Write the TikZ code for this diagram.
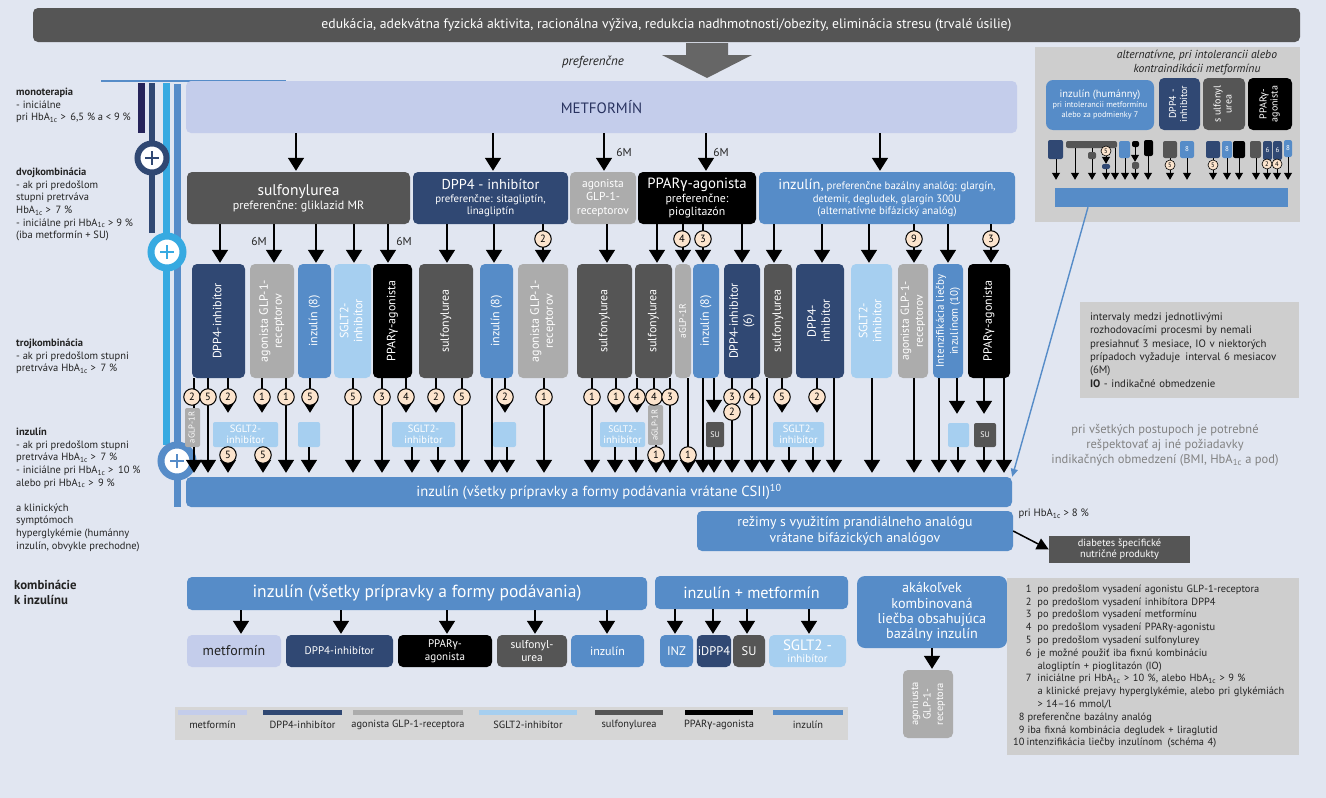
\documentclass[tikz,border=0pt]{standalone}
\usepackage{fontspec}
\setmainfont{PT Sans}
\newfontfamily\grfont{Fira Sans}
\usepackage{graphicx}
\usetikzlibrary{positioning, arrows.meta, calc}

\definecolor{bgc}{RGB}{225,230,241}
\definecolor{cdark}{RGB}{85,85,85}
\definecolor{cnavy}{RGB}{48,72,115}
\definecolor{cblue}{RGB}{86,140,200}
\definecolor{clight}{RGB}{166,207,240}
\definecolor{cgray}{RGB}{172,172,172}
\definecolor{cmet}{RGB}{196,205,235}
\definecolor{cmtext}{RGB}{40,50,95}
\definecolor{cpanel}{RGB}{206,206,206}
\definecolor{cpanelb}{RGB}{214,214,214}
\definecolor{cbeige}{RGB}{252,228,205}
\definecolor{cbright}{RGB}{55,170,225}
\definecolor{cdeep}{RGB}{38,36,90}
\definecolor{ctext}{RGB}{35,35,35}
\definecolor{cnote}{RGB}{130,130,130}

\newcommand{\fsz}[2]{\fontsize{#1}{#2}\selectfont}
\newcommand{\gam}{{\grfont γ}}
\newcommand{\hba}{HbA\textsubscript{1c}}
\newcommand{\vtext}[1]{\rotatebox{90}{\begin{tabular}{@{}c@{}}#1\end{tabular}}}

\begin{document}
\begin{tikzpicture}[
  x=1pt, y=-1pt,
  >={Triangle[length=13pt,width=16pt]},
  every node/.style={font=\fsz{9}{11}, text=ctext},
  box/.style={rectangle, rounded corners=5pt, fill=#1, text=white, align=center, inner sep=1pt},
  vbox/.style={box=#1, minimum height=114pt},
  sbox/.style={box=#1, rounded corners=2pt, inner sep=0pt, font=\fsz{10.5}{10.5}},
  arr/.style={->, line width=1.6pt, shorten >=1pt},
  pinarr/.style={->, line width=1.6pt, shorten >=9pt},
  sarr/.style={-{Triangle[length=7pt,width=8pt]}, line width=1pt},
  num/.style={circle, draw=black, fill=cbeige, line width=1pt, inner sep=0pt, minimum size=16.5pt, text=black, font=\fsz{10.5}{10.5}},
  snum/.style={num, minimum size=10pt, line width=.6pt, font=\fsz{6.5}{7}},
  plus/.style={circle, draw=#1, fill=white, inner sep=0pt, path picture={
      \draw[#1, line width=1.8pt] ($(path picture bounding box.center)+(-7,0)$) -- +(14,0)
        ($(path picture bounding box.center)+(0,-7)$) -- +(0,14);}},
  lefttext/.style={anchor=north west, align=left, inner sep=0pt, font=\fsz{10.5}{12.6}}
]
\useasboundingbox (0,0) rectangle (1326,798);
\fill[bgc] (0,0) rectangle (1326,798);

% trvalé úsilie
\node[box=cdark, minimum width=1267pt, minimum height=34pt, font=\fsz{13.7}{15}] (tb) at (666.5,25)
  {edukácia, adekvátna fyzická aktivita, racionálna výživa, redukcia nadhmotnosti/obezity, eliminácia stresu (trvalé úsilie)};
\fill[cdark!90] (686,43) -- (728,43) -- (728,55) -- (752,55) -- (707,78) -- (662,55) -- (686,55) -- cycle;
\node[font=\fsz{13}{14}\itshape] (pf) at (593,62) {preferenčne};

% stupne liečby vľavo
\draw[cblue, line width=2.5pt] (101,81) -- (286,81);
\fill[cdeep] (138,83) rectangle (145,133);
\fill[cnavy] (149,83) rectangle (155,233);
\fill[cbright] (163,83) rectangle (170,445);
\fill[cblue] (174,84) rectangle (181,507);
\node[plus=cnavy, minimum size=29pt, line width=6pt] (pl1) at (152,158) {};
\node[plus=cbright, minimum size=32pt, line width=7pt] (pl2) at (167,252) {};
\node[plus=cblue, minimum size=32pt, line width=7pt] (pl3) at (177,461) {};

\node[lefttext] (lt1) at (16,88) {\textbf{monoterapia}\\- iniciálne\\pri \hba{} >\, 6,5 \% a < 9 \%};
\node[lefttext] (lt2) at (16,168) {\textbf{dvojkombinácia}\\- ak pri predošlom\\stupni pretrváva\\\hba{} >\, 7 \%\\- iniciálne pri \hba{} > 9 \%\\(iba metformín + SU)};
\node[lefttext] (lt3) at (16,339) {\textbf{trojkombinácia}\\- ak pri predošlom stupni\\pretrváva \hba{} >\, 7 \%};
\node[lefttext] (lt4) at (16,428) {\textbf{inzulín}\\- ak pri predošlom stupni\\pretrváva \hba{} >\, 7 \%\\- iniciálne pri \hba{} >\, 10 \%\\alebo pri \hba{} >\, 9 \%\\[12.6pt]a klinických\\symptómoch\\hyperglykémie (humánny\\inzulín, obvykle prechodne)};
\node[lefttext, font=\fsz{12.8}{15}\bfseries] (lt5) at (14,580) {kombinácie\\k inzulínu};

% metformín a druhý rad
\node[box=cmet, text=cmtext, minimum width=831pt, minimum height=52pt, font=\fsz{15}{16}] (mf) at (601.5,107) {METFORMÍN};
\node[box=cdark, minimum width=223pt, minimum height=52pt, font=\fsz{12}{14}] (s2) at (298.5,198)
  {{\fsz{15.5}{17}sulfonylurea}\\preferenčne: gliklazid MR};
\node[box=cnavy, minimum width=155pt, minimum height=52pt, font=\fsz{10.8}{12.5}] (d2) at (490.5,198)
  {{\fsz{14.3}{15}DPP4 - inhibítor}\\preferenčne: sitagliptín,\\linagliptín};
\node[box=cgray, minimum width=66pt, minimum height=52pt, font=\fsz{11.5}{13.8}] (g2) at (603,198)
  {agonista\\GLP-1-\\receptorov};
\node[box=black, minimum width=118pt, minimum height=52pt, font=\fsz{11.8}{13.5}] (p2) at (697,198)
  {{\fsz{14.8}{16}PPAR\gam-agonista}\\preferenčne:\\pioglitazón};
\node[box=cblue, minimum width=256pt, minimum height=52pt, font=\fsz{10.8}{12.8}] (i2) at (887,198)
  {{\fsz{14.5}{16}inzulín,} preferenčne bazálny analóg: glargín,\\detemir, degludek, glargín 300U\\(alternatívne bifázický analóg)};

% tretí rad
\foreach \n/\xa/\xb/\col/\fs/\txt in {
    r1/192/245/cnavy/12/{DPP4-inhibítor},
    r2/250/294/cgray/12/{agonista GLP-1-\\receptorov},
    r3/298/331/cblue/12/{inzulín (8)},
    r4/334/371/clight/12/{SGLT2-\\inhibítor},
    r5/373/412/black/12/{PPAR\gam-agonista},
    r6/419/473/cdark/12/{sulfonylurea},
    r7/480/513/cblue/12/{inzulín (8)},
    r8/518/568/cgray/12/{agonista GLP-1-\\receptorov},
    r9/577/632/cdark/12/{sulfonylurea},
    r10/635/672/cdark/12/{sulfonylurea},
    r11/675/691/cgray/9.5/{aGLP-1R},
    r12/693/719/cblue/12/{inzulín (8)},
    r13/724/760/cnavy/12/{DPP4-inhibítor\\(6)},
    r14/764/792/cdark/12/{sulfonylurea},
    r15/796/844/cnavy/12/{DPP4-\\inhibítor},
    r16/851/892/clight/12/{SGLT2-\\inhibítor},
    r17/898/928/cgray/11.5/{agonista GLP-1-\\receptorov},
    r18/933/963/cblue/11/{Intenzifikácia liečby\\inzulínom (10)},
    r19/968/1010/black/12/{PPAR\gam-agonista}}
  \node[vbox=\col, minimum width={(\xb-\xa)*1pt}, font=\fsz{\fs}{14}] (\n) at ({(\xa+\xb)/2},321) {\vtext{\txt}};

% malé pridané lieky
\foreach \n/\xa/\xb/\ya/\yb/\col/\txt in {
    ag1/185/200/408/447/cgray/{\vtext{\fsz{8.5}{9}aGLP-1R}},
    sg1/213/278/422/447/clight/{SGLT2-\\inhibítor},
    lb1/298/320/422/447/clight/{},
    sg2/392/455/422/447/clight/{SGLT2-\\inhibítor},
    lb2/493/516/422/447/clight/{},
    sg3/600/645/422/447/clight/{\fsz{9.5}{9.5}SGLT2-\\inhibítor},
    ag2/648/663/405/445/cgray/{\vtext{\fsz{8.5}{9}aGLP-1R}},
    su1/706/724/422/447/cdark/{\fsz{8}{8}SU},
    sg4/773/824/422/447/clight/{SGLT2-\\inhibítor},
    lb3/948/969/423/447/clight/{},
    su2/974/996/423/447/cdark/{\fsz{8}{8}SU}}
  \node[sbox=\col, minimum width={(\xb-\xa)*1pt}, minimum height={(\yb-\ya)*1pt}] (\n) at ({(\xa+\xb)/2},{(\ya+\yb)/2}) {\txt};

\node[box=cblue, minimum width=826pt, minimum height=30pt, font=\fsz{14.6}{16}] (ib) at (599,492)
  {inzulín (všetky prípravky a formy podávania vrátane CSII)\textsuperscript{10}};

% šípky
\foreach \x/\t in {296/s2, 493/d2, 604/g2, 706/p2, 880/i2}
  \draw[arr] (\x,0 |- mf.south) -- (\x,0 |- \t.north);
\foreach \x/\s/\t in {220/s2/r1, 274/s2/r2, 316/s2/r3, 354/s2/r4, 388/s2/r5, 447/d2/r6, 494/d2/r7, 543/d2/r8,
    607/g2/r9, 657/p2/r10, 683/p2/r11, 703/p2/r12, 742/p2/r13, 774/i2/r14, 822/i2/r15, 869/i2/r16,
    914/i2/r17, 948/i2/r18, 991/i2/r19}
  \draw[arr] (\x,0 |- \s.south) -- (\x,0 |- \t.north);
\node[font=\fsz{11.5}{12}] (m6a) at (624,152) {6M};
\node[font=\fsz{11.5}{12}] (m6b) at (721,152) {6M};
\node[font=\fsz{11.5}{12}] (m6c) at (259,241) {6M};
\node[font=\fsz{11.5}{12}] (m6d) at (404,241) {6M};

\foreach \x/\s in {208/r1, 286/r2, 353/r4, 382/r5, 462/r6, 492/r7, 544/r8, 592/r9, 670/r10, 688/r11,
    703/r12, 732/r13, 752/r13, 767/r14, 834/r15, 872/r16, 914/r17, 939/r18, 1004/r19}
  \draw[arr, shorten >=4pt] (\x,0 |- \s.south) -- (\x,0 |- ib.north);
\foreach \x/\s/\t in {228/r1/sg1, 262/r2/sg1, 310/r3/lb1, 406/r5/sg2, 436/r6/sg2, 505/r7/lb2,
    616/r9/sg3, 637/r10/sg3, 714/r12/su1, 782/r14/sg4, 817/r15/sg4, 957/r18/lb3, 984/r19/su2}
  \draw[pinarr] (\x,0 |- \s.south) -- (\x,0 |- \t.north);
\foreach \x/\s/\t in {194/r1/ag1, 654/r10/ag2}
  \draw[line width=1.6pt] (\x,0 |- \s.south) -- (\x,0 |- \t.north);
\foreach \x/\s in {194/ag1, 228/sg1, 263/sg1, 309/lb1, 412/sg2, 438/sg2, 507/lb2, 615/sg3, 636/sg3,
    656/ag2, 714/su1, 789/sg4, 813/sg4, 958/lb3, 984/su2}
  \draw[arr, shorten >=4pt] (\x,0 |- \s.south) -- (\x,0 |- ib.north);

% poznámky v krúžkoch
\foreach \x/\v in {543/2, 682/4, 703/3, 914/9, 991/3}
  \node[num] (c\x) at (\x,239) {\v};
\foreach \x/\v in {192/2, 208/5, 228/2, 262/1, 286/1, 310/5, 353/5, 382/3, 406/4, 436/2, 462/5, 505/2,
    544/1, 592/1, 616/1, 637/4, 654/4, 670/3, 732/3, 752/4, 782/5, 817/2}
  \node[num] (n\x) at (\x,397) {\v};
\node[num] (n732b) at (732,412) {2};
\foreach \x/\v in {228/5, 263/5, 656/1, 688/1}
  \node[num] (m\x) at (\x,455) {\v};

% prandiálny analóg
\node[font=\fsz{10.7}{12}, anchor=west] (hb8) at (1015,514) {pri \hba{} > 8 \%};
\node[box=cblue, minimum width=316pt, minimum height=40pt, font=\fsz{13.8}{15.5}] (rz) at (855,531)
  {režimy s využitím prandiálneho analógu\\vrátane bifázických analógov};
\node[box=cdark, rounded corners=0pt, minimum width=141pt, minimum height=27pt, font=\fsz{10.4}{11.5}] (nu) at (1119.5,549.5)
  {diabetes špecifické\\nutričné produkty};
\draw[-{Triangle[length=12pt,width=12pt]}, line width=1.5pt] (rz.east) -- (nu.west);

% kombinácie k inzulínu
\node[box=cblue, minimum width=460pt, minimum height=33pt, font=\fsz{17.5}{19}] (bi) at (417,593.5)
  {inzulín (všetky prípravky a formy podávania)};
\node[box=cblue, minimum width=193pt, minimum height=33pt, font=\fsz{16.2}{18}] (bm) at (751.5,592.5)
  {inzulín + metformín};
\node[box=cblue, rounded corners=8pt, minimum width=150pt, minimum height=72pt, font=\fsz{14.2}{15.2}] (bk) at (932,612)
  {akákoľvek\\kombinovaná\\liečba obsahujúca\\bazálny inzulín};
\node[box=cmet, text=ctext, minimum width=94pt, minimum height=32pt, font=\fsz{14}{15}] (k1) at (234,651) {metformín};
\node[box=cnavy, minimum width=107pt, minimum height=32pt, font=\fsz{11}{12}] (k2) at (339.5,651) {DPP4-inhibítor};
\node[box=black, minimum width=94pt, minimum height=32pt, font=\fsz{11}{12.5}] (k3) at (445,651) {PPAR\gam -\\agonista};
\node[box=cdark, minimum width=70pt, minimum height=32pt, font=\fsz{11.4}{12.5}] (k4) at (532,651) {sulfonyl-\\urea};
\node[box=cblue, minimum width=73pt, minimum height=32pt, font=\fsz{12}{13}] (k5) at (607.5,651) {inzulín};
\node[box=cblue, minimum width=33pt, minimum height=32pt, font=\fsz{12.5}{14}] (m1) at (676.5,651) {INZ};
\node[box=cnavy, minimum width=34pt, minimum height=32pt, font=\fsz{12.5}{14}] (m2) at (714,651) {iDPP4};
\node[box=cdark, minimum width=32pt, minimum height=32pt, font=\fsz{12.5}{14}] (m3) at (749,651) {SU};
\node[box=clight, minimum width=77pt, minimum height=32pt, font=\fsz{11}{11.5}] (m4) at (807.5,651) {{\fsz{15}{15}SGLT2 -}\\inhibítor};
\node[box=cgray, minimum width=50pt, minimum height=68pt, font=\fsz{10.5}{12.5}] (ka) at (928,704) {\vtext{agoniusta\\GLP-1-\\receptora}};
\foreach \x/\t in {241/k1, 341/k2, 447/k3, 535/k4, 607/k5}
  \draw[arr] (\x,0 |- bi.south) -- (\x,0 |- \t.north);
\foreach \x/\t in {675/m1, 713/m2, 747/m3, 809/m4}
  \draw[arr] (\x,0 |- bm.south) -- (\x,0 |- \t.north);
\draw[arr] (932,0 |- bk.south) -- (932,0 |- ka.north);

% legenda farieb
\fill[cpanelb] (175,707) rectangle (848,740);
\foreach \xa/\xb/\col/\txt [count=\k] in {178/247/cmet/metformín, 263/342/cnavy/DPP4-inhibítor,
    353/463/cgray/agonista GLP-1-receptora, 479/577/clight/SGLT2-inhibítor, 595/663/cdark/sulfonylurea,
    685/753/black/PPAR\gam-agonista, 773/843/cblue/inzulín}{
  \fill[\col] (\xa,710) rectangle (\xb,715);
  \node[font=\fsz{10.4}{11}] (lg\k) at ({(\xa+\xb)/2},725) {\txt};
}

% alternatívy pri intolerancii metformínu
\node[fill=cpanel, minimum width=265pt, minimum height=175pt, inner sep=0pt] (ap) at (1167.5,134.5) {};
\node[font=\fsz{11.6}{14}\itshape, align=center] (apt) at (1197,63) {alternatívne, pri intolerancii alebo\\kontraindikácii metformínu};
\node[box=cblue, rounded corners=7pt, minimum width=108pt, minimum height=50pt, font=\fsz{8.2}{10}] (ah) at (1100,105)
  {{\fsz{10.5}{11}inzulín (humánny)}\\pri intolerancii metformínu\\alebo za podmienky 7};
\node[box=cnavy, minimum width=41pt, minimum height=52pt, font=\fsz{10}{11}] (ad) at (1179.5,104) {\vtext{DPP4 -\\inhibítor}};
\node[box=cdark, minimum width=42pt, minimum height=52pt, font=\fsz{10}{11}] (as) at (1224,104) {\vtext{s ulfonyl\\urea}};
\node[box=black, minimum width=44pt, minimum height=52pt, font=\fsz{10}{11}] (apr) at (1270,104) {\vtext{PPAR\gam -\\agonista}};
\foreach \n/\xa/\xb/\ya/\yb/\col/\txt in {
    q1/1048/1063/140/159/cnavy/{}, q2/1066/1117/141/148/cdark/{}, q3/1088/1096/152/159/cdark/{},
    q4/1102/1110/164/169/cnavy/{}, q5/1119/1130/141/158/cblue/{}, q6/1132/1139/141/147/black/{},
    q7/1132/1139/162/169/cdark/{}, q8/1144/1153/140/156/black/{}, q9/1163/1177/141/158/cdark/{},
    q10/1180/1194/141/158/cblue/{8}, q11/1206/1220/141/158/cnavy/{}, q12/1222/1232/141/158/cblue/{8},
    q13/1233/1245/141/158/black/{}, q14/1250/1261/141/158/cdark/{}, q15/1263/1272/141/160/cnavy/{6},
    q16/1273/1282/141/160/cnavy/{6}, q17/1284/1292/140/157/cblue/{8}}
  \node[sbox=\col, font=\fsz{7}{7}, minimum width={(\xb-\xa)*1pt}, minimum height={(\yb-\ya)*1pt}] (\n) at ({(\xa+\xb)/2},{(\ya+\yb)/2}) {\txt};
\node[fill=cblue, minimum width=233pt, minimum height=19pt, inner sep=0pt] (pbar) at (1171.5,197.5) {};
\foreach \x/\s in {1056/q1, 1075/q2, 1092/q3, 1106/q4, 1115/q2, 1125/q5, 1135/q7, 1148/q8, 1170/q9,
    1187/q10, 1213/q11, 1227/q12, 1239/q13, 1256/q14, 1267/q15, 1277/q16, 1288/q17}
  \draw[sarr, shorten >=8pt] (\x,0 |- \s.south) -- (\x,0 |- pbar.north);
\draw[line width=1pt] (1092,0 |- q2.south) -- (1092,0 |- q3.north);
\draw[sarr] (1106,0 |- q2.south) -- (1106,0 |- q4.north);
\draw[sarr] (1135,0 |- q6.south) -- (1135,0 |- q7.north);
\foreach \x/\y/\v in {1106/151/5, 1170/165/5, 1213/165/5, 1267/164/2, 1277/164/4}
  \node[snum] (p\x) at (\x,\y) {\v};
\draw[cblue, line width=1.4pt, -{Triangle[length=8pt,width=7pt]}] (1088,0 |- pbar.south) -- (ib.north east);

% vysvetlivky
\node[fill=cpanel, minimum height=96pt, text width=199pt, inner xsep=10pt, align=left, font=\fsz{10.8}{13.4}] (iv) at (1189.5,350)
  {intervaly medzi jednotlivými\\rozhodovacími procesmi by nemali\\presiahnuť 3 mesiace, IO v niektorých\\prípadoch vyžaduje\, interval 6 mesiacov\\(6M)\\\textbf{IO} - indikačné obmedzenie};
\node[text=cnote, font=\fsz{12.5}{15}, align=center] (gt) at (1165,445)
  {pri všetkých postupoch je potrebné\\rešpektovať aj iné požiadavky\\indikačných obmedzení (BMI, \hba{} a pod)};
\node[fill=cpanel, minimum height=177pt, text width=287pt, inner xsep=2.5pt, align=left, font=\fsz{10.4}{12.8}] (nt) at (1153,666.5)
  {\makebox[22pt][r]{1}\hspace{6pt}po predošlom vysadení agonistu GLP-1-receptora\\
   \makebox[22pt][r]{2}\hspace{6pt}po predošlom vysadení inhibítora DPP4\\
   \makebox[22pt][r]{3}\hspace{6pt}po predošlom vysadení metformínu\\
   \makebox[22pt][r]{4}\hspace{6pt}po predošlom vysadení PPAR\gam-agonistu\\
   \makebox[22pt][r]{5}\hspace{6pt}po predošlom vysadení sulfonylurey\\
   \makebox[22pt][r]{6}\hspace{6pt}je možné použiť iba fixnú kombináciu\\
   \hspace*{28pt}alogliptín + pioglitazón (IO)\\
   \makebox[22pt][r]{7}\hspace{6pt}iniciálne pri \hba{} > 10 \%, alebo \hba{} > 9 \%\\
   \hspace*{28pt}a klinické prejavy hyperglykémie, alebo pri glykémiách\\
   \hspace*{28pt}> 14–16 mmol/l\\
   \makebox[15pt][r]{8}\hspace{3pt}preferenčne bazálny analóg\\
   \makebox[15pt][r]{9}\hspace{3pt}iba fixná kombinácia degludek + liraglutid\\
   \makebox[15pt][r]{10}\hspace{2pt}intenzifikácia liečby inzulínom\, (schéma 4)};
\end{tikzpicture}
\end{document}
